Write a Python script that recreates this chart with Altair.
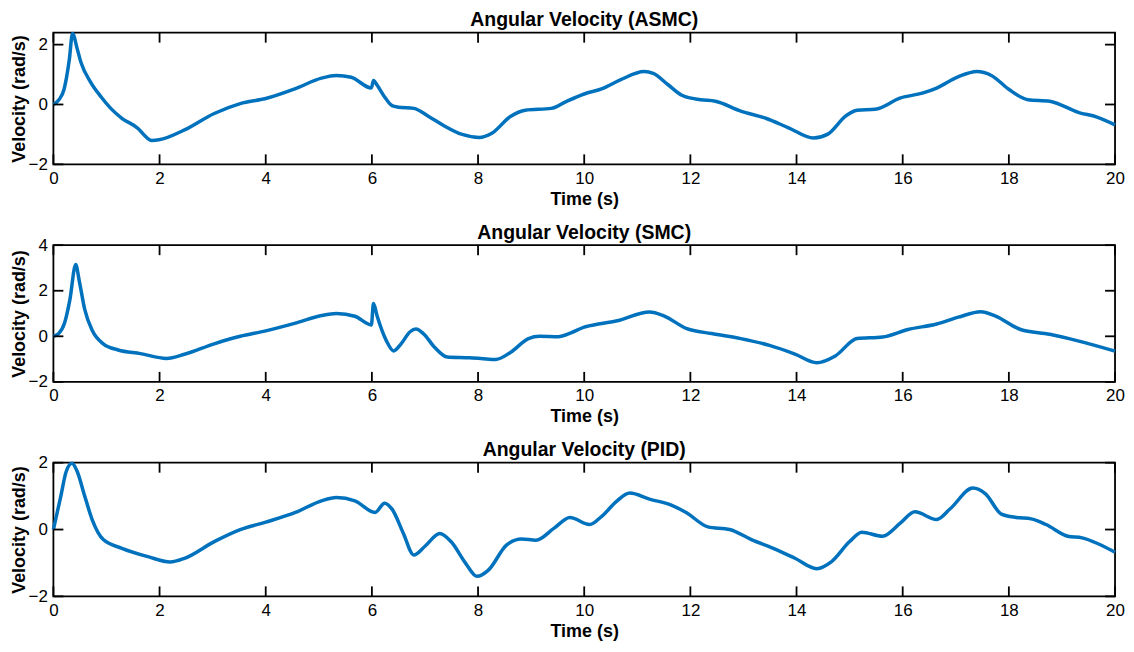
import altair as alt
import pandas as pd

# ---- data ----
t_asmc = [0, 0.1, 0.2, 0.3, 0.36, 0.45, 0.52, 0.7, 0.9, 1.08, 1.29, 1.6, 1.7, 1.85, 1.99, 2.47,
          3.03, 3.52, 4.0, 4.56, 5.05, 5.33, 5.61, 5.99, 6.03, 6.1, 6.24, 6.38, 6.5, 6.79, 7.07,
          7.35, 7.7, 8.02, 8.26, 8.61, 8.89, 9.38, 9.65, 10.0, 10.34, 10.68, 11.13, 11.3, 11.58,
          11.85, 12.19, 12.47, 12.95, 13.42, 13.84, 14.32, 14.59, 14.93, 15.14, 15.48, 15.96,
          16.37, 16.64, 17.05, 17.4, 17.67, 18.01, 18.36, 18.77, 19.32, 19.66, 20.0]
v_asmc = [0, 0.15, 0.5, 1.5, 2.37, 1.85, 1.4, 0.75, 0.25, -0.13, -0.46, -0.81, -1.0, -1.2, -1.18,
          -0.85, -0.3, 0.03, 0.2, 0.53, 0.88, 0.97, 0.91, 0.55, 0.8, 0.64, 0.25, -0.04, -0.09,
          -0.13, -0.4, -0.7, -1.0, -1.1, -0.96, -0.4, -0.19, -0.13, 0.09, 0.35, 0.53, 0.82, 1.1,
          1.04, 0.66, 0.3, 0.16, 0.11, -0.22, -0.46, -0.77, -1.12, -0.99, -0.38, -0.19, -0.16,
          0.22, 0.38, 0.55, 0.93, 1.1, 0.97, 0.49, 0.16, 0.11, -0.27, -0.42, -0.68]

t_smc = [0, 0.1, 0.21, 0.31, 0.42, 0.49, 0.59, 0.73, 0.94, 1.22, 1.64, 2.13, 2.47, 3.03, 3.52,
         4.0, 4.56, 5.05, 5.33, 5.68, 5.99, 6.03, 6.1, 6.27, 6.41, 6.55, 6.72, 6.83, 6.97, 7.18,
         7.42, 7.77, 8.05, 8.33, 8.61, 8.95, 9.16, 9.51, 9.75, 10.0, 10.3, 10.6, 11.23, 11.5,
         11.92, 12.4, 12.95, 13.49, 13.97, 14.38, 14.73, 15.14, 15.62, 16.1, 16.64, 17.05,
         17.47, 17.74, 18.22, 18.77, 19.32, 20.0]
v_smc = [0, 0.12, 0.58, 1.6, 3.15, 2.4, 1.18, 0.27, -0.33, -0.6, -0.76, -0.97, -0.79, -0.33, 0,
         0.24, 0.58, 0.91, 1.0, 0.88, 0.5, 1.44, 0.88, -0.18, -0.64, -0.33, 0.2, 0.32, 0.12,
         -0.48, -0.91, -0.94, -0.97, -1.02, -0.71, -0.1, 0, -0.02, 0.15, 0.4, 0.55, 0.67, 1.07,
         0.9, 0.35, 0.12, -0.1, -0.4, -0.78, -1.16, -0.86, -0.1, -0.03, 0.3, 0.54, 0.84, 1.08,
         0.9, 0.3, 0.09, -0.21, -0.65]

t_pid = [0, 0.14, 0.24, 0.35, 0.45, 0.59, 0.73, 0.94, 1.29, 1.78, 2.2, 2.47, 3.03, 3.52, 4.0,
         4.56, 5.05, 5.33, 5.68, 6.06, 6.24, 6.38, 6.59, 6.79, 7.0, 7.28, 7.49, 7.77, 7.98, 8.19,
         8.54, 8.82, 9.09, 9.44, 9.73, 10.1, 10.34, 10.62, 10.86, 11.23, 11.64, 11.92, 12.33,
         12.74, 13.15, 13.63, 13.97, 14.38, 14.66, 15.0, 15.23, 15.62, 15.96, 16.23, 16.64,
         16.9, 17.32, 17.56, 17.86, 18.14, 18.42, 18.7, 19.11, 19.38, 19.66, 20.0]
v_pid = [0, 1.0, 1.73, 1.98, 1.73, 1.0, 0.3, -0.3, -0.56, -0.81, -0.97, -0.86, -0.36, 0, 0.22,
         0.51, 0.86, 0.96, 0.86, 0.51, 0.79, 0.61, -0.1, -0.76, -0.5, -0.12, -0.36, -1.02,
         -1.4, -1.22, -0.46, -0.28, -0.32, 0.05, 0.36, 0.15, 0.41, 0.86, 1.09, 0.91, 0.73, 0.51,
         0.08, 0, -0.3, -0.61, -0.86, -1.17, -0.96, -0.36, -0.08, -0.2, 0.2, 0.53, 0.3, 0.63,
         1.24, 1.07, 0.46, 0.36, 0.32, 0.15, -0.2, -0.25, -0.41, -0.68]

x_ticks = [0, 2, 4, 6, 8, 10, 12, 14, 16, 18, 20]
titles = ["Angular Velocity (ASMC)", "Angular Velocity (SMC)", "Angular Velocity (PID)"]
y_domains = [[-2, 2.4], [-2, 4], [-2, 2]]
y_ticks = [[-2, 0, 2], [-2, 0, 2, 4], [-2, 0, 2]]

W = 1064
heights = [132, 137, 134]
TICK = 10
FONT = "Liberation Sans"
SW = 1.8


def panel(title, t, v, ydom, yticks, h):
    df = pd.DataFrame({"t": t, "v": v})
    x_enc = alt.X("t:Q", scale=alt.Scale(domain=[0, 20], nice=False),
                  axis=alt.Axis(values=x_ticks, title="Time (s)", labelFlush=False,
                                labelPadding=6, titlePadding=4))
    y_enc = alt.Y("v:Q", scale=alt.Scale(domain=ydom, nice=False, zero=False),
                  axis=alt.Axis(values=yticks, title="Velocity (rad/s)", labelPadding=6,
                                titlePadding=0))
    line = alt.Chart(df).mark_line(color="#0072BD", strokeWidth=3.5,
                                   interpolate="monotone").encode(x=x_enc, y=y_enc)
    xt = pd.DataFrame({"t": x_ticks})
    yt = pd.DataFrame({"v": yticks})
    top = alt.Chart(xt).mark_rule(color="black", strokeWidth=SW).encode(
        x=x_enc, y=alt.value(0), y2=alt.value(TICK))
    bottom = alt.Chart(xt).mark_rule(color="black", strokeWidth=SW).encode(
        x=x_enc, y=alt.value(h), y2=alt.value(h - TICK))
    left = alt.Chart(yt).mark_rule(color="black", strokeWidth=SW).encode(
        y=y_enc, x=alt.value(0), x2=alt.value(TICK))
    right = alt.Chart(yt).mark_rule(color="black", strokeWidth=SW).encode(
        y=y_enc, x=alt.value(W), x2=alt.value(W - TICK))
    ttl = alt.Chart(pd.DataFrame({"label": [title]})).mark_text(
        font=FONT, fontSize=19.5, fontWeight="bold", color="black",
        baseline="alphabetic", align="center"
    ).encode(x=alt.value(W / 2), y=alt.value(-6.5), text="label:N")
    return alt.layer(line, top, bottom, left, right, ttl).properties(width=W, height=h)


panels = [
    panel(titles[0], t_asmc, v_asmc, y_domains[0], y_ticks[0], heights[0]),
    panel(titles[1], t_smc, v_smc, y_domains[1], y_ticks[1], heights[1]),
    panel(titles[2], t_pid, v_pid, y_domains[2], y_ticks[2], heights[2]),
]

chart = alt.vconcat(*panels, spacing=81, bounds="flush").properties(
    padding={"left": 0.5, "top": 0, "right": 0, "bottom": 0}
).configure_view(
    stroke="black", strokeWidth=SW
).configure_axis(
    domain=False, ticks=False, grid=False,
    labelFont=FONT, labelFontSize=17, labelColor="black",
    titleFont=FONT, titleFontSize=18, titleFontWeight="bold", titleColor="black"
)

chart.save("out.html", embed_options={"renderer": "svg", "actions": False})
